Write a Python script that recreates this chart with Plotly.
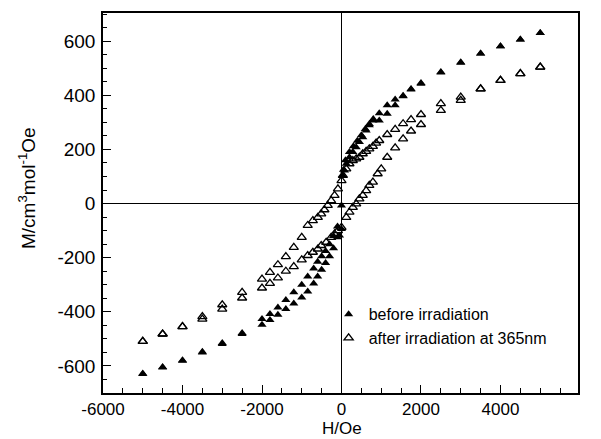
import plotly.graph_objects as go

# ---- before irradiation (filled triangles) ----
before_H_down = [5000, 4500, 4000, 3500, 3000, 2500, 2000, 1750, 1550, 1350, 1150, 950, 800, 700, 600, 500, 400, 300, 200, 100, 50, 0,
                 -100, -200, -300, -400, -500, -600, -700, -850, -1000, -1200, -1400, -1600, -1800, -2000,
                 -2500, -3000, -3500, -4000, -4500, -5000]
before_M_down = [630, 606, 581, 554, 522, 486, 445, 423, 398, 384, 363, 334, 312, 294, 275, 252, 232, 212, 190, 160, 125, -7,
                 -85, -120, -150, -175, -195, -215, -240, -270, -300, -328, -356, -384, -408, -427,
                 -478, -515, -548, -579, -604, -628]
before_H_up = [-5000, -4500, -4000, -3500, -3000, -2500, -2000, -1800, -1600, -1400, -1200, -1000, -850, -700, -600, -500,
               -400, -300, -200, -100, -50, 0, 30, 75, 120, 200, 285, 370, 450, 535, 620, 700, 790, 950, 1150, 1350,
               1550, 1750, 2000, 2500, 3000, 3500, 4000, 4500, 5000]
before_M_up = [-630, -606, -581, -550, -519, -482, -448, -430, -411, -390, -369, -347, -325, -295, -270, -245,
               -220, -195, -165, -125, -118, -94, 104, 122, 147, 171, 190, 208, 227, 245, 270, 289, 307, 307, 332, 363,
               396, 421, 443, 484, 520, 554, 581, 606, 630]

# ---- after irradiation at 365nm (open triangles) ----
after_H_down = [5000, 4500, 4000, 3500, 3000, 2500, 2000, 1750, 1550, 1350, 1150, 950, 870, 790, 700, 620, 535, 450, 370, 285,
                200, 120, 35, 0, -90, -175, -260, -345, -430, -510, -595, -720, -850, -1000, -1200, -1400, -1600, -1800,
                -2000, -2500, -3000, -3500, -4000, -4500, -5000]
after_M_down = [504, 480, 455, 424, 393, 369, 329, 310, 295, 274, 255, 233, 223, 211, 202, 193, 184, 171, 165, 159,
                147, 128, 104, 85, 54, 30, 11, -7, -23, -38, -51, -63, -81, -125, -162, -196, -226, -254,
                -279, -328, -374, -418, -455, -482, -509]
after_H_up = [-5000, -4500, -4000, -3500, -3000, -2500, -2000, -1800, -1600, -1400, -1200, -1000, -850, -720, -595, -510,
              -385, -260, -175, -90, 0, 120, 200, 285, 370, 450, 535, 620, 700, 790, 910, 1000, 1150, 1350, 1550, 1750,
              2000, 2500, 3000, 3500, 4000, 4500, 5000]
after_M_up = [-509, -482, -455, -427, -390, -349, -312, -295, -275, -250, -233, -208, -192, -180, -168, -155,
              -143, -125, -112, -100, -88, -51, -32, -14, -1, 17, 30, 48, 67, 79, 110, 128, 171, 206, 239, 268,
              292, 344, 381, 424, 455, 480, 504]

series_names = ["before irradiation", "after irradiation at 365nm"]
x_ticks = [-6000, -4000, -2000, 0, 2000, 4000, 6000]
y_ticks = [-600, -400, -200, 0, 200, 400, 600]
x_title = "H/Oe"
y_title = "M/cm<sup>3</sup>mol<sup>-1</sup>Oe"

FONT = "Liberation Sans, Arial, sans-serif"

fig = go.Figure()
fig.add_trace(go.Scatter(
    x=before_H_down + before_H_up, y=before_M_down + before_M_up, mode="markers",
    name=series_names[0],
    marker=dict(symbol="triangle-up", size=8, color="black", line=dict(width=0)),
))
fig.add_trace(go.Scatter(
    x=after_H_down + after_H_up, y=after_M_down + after_M_up, mode="markers",
    name=series_names[1],
    marker=dict(symbol="triangle-up-open", size=8, color="black", line=dict(width=1.3, color="black")),
))

axis_common = dict(
    showline=True, linecolor="black", linewidth=1.5, mirror=True,
    ticks="inside", tickcolor="black", tickwidth=1.2, ticklen=8,
    showgrid=False, zeroline=True, zerolinecolor="black", zerolinewidth=1.3,
    automargin=False,
)

fig.update_xaxes(
    range=[-6000, 5950], tickvals=x_ticks, ticktext=[str(v) for v in x_ticks],
    minor=dict(dtick=500, tick0=0, ticks="inside", ticklen=5, tickcolor="black", tickwidth=1),
    ticklabelstandoff=0,
    tickfont=dict(family=FONT, size=17, color="black"),
    **axis_common,
)
fig.update_yaxes(
    range=[-700, 704], tickvals=y_ticks, ticktext=[str(v) for v in y_ticks],
    minor=dict(dtick=50, tick0=0, ticks="inside", ticklen=4, tickcolor="black", tickwidth=1),
    ticklabelstandoff=2,
    tickfont=dict(family=FONT, size=19, color="black"),
    **axis_common,
)

fig.add_annotation(text=x_title, xref="paper", yref="paper", x=(342 - 103) / 475, y=(393 - 428.5) / 380,
                   xanchor="center", yanchor="middle", showarrow=False,
                   font=dict(family=FONT, size=17, color="black"))
fig.add_annotation(text=y_title, xref="paper", yref="paper", x=(27 - 103) / 475, y=(393 - 188) / 380,
                   xanchor="center", yanchor="middle", showarrow=False, textangle=-90,
                   font=dict(family=FONT, size=19, color="black"))

fig.update_layout(
    width=601, height=439,
    margin=dict(l=103, r=23, t=13, b=46),
    paper_bgcolor="white", plot_bgcolor="white",
    showlegend=True,
    legend=dict(x=0.475, y=0.252, xanchor="left", yanchor="top", bgcolor="rgba(0,0,0,0)",
                font=dict(family=FONT, size=16, color="black"), itemwidth=30, tracegroupgap=0),
)

fig.write_html("out.html")
